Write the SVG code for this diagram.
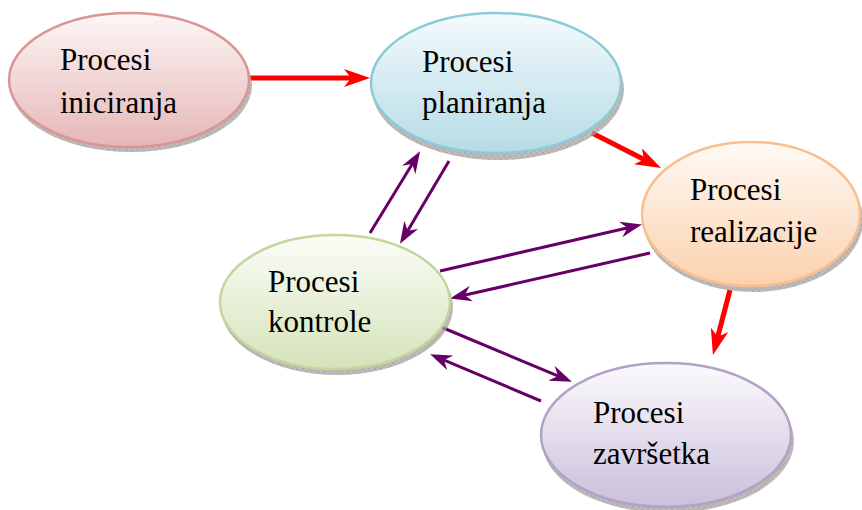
<svg xmlns="http://www.w3.org/2000/svg" width="862" height="510" viewBox="0 0 862 510">
<style>
text{font-family:'Liberation Serif','Times New Roman',serif;font-size:31px;fill:#000}
.red{stroke:#ff0000;stroke-width:5;fill:none;marker-end:url(#redHead)}
.pur{stroke:#660066;stroke-width:3;fill:none;marker-end:url(#purHead)}
.node{stroke-width:2.5}
.rim{fill:url(#hatch);opacity:0.75}
</style>
<defs>
<marker id="redHead" viewBox="0 0 26 18" refX="12" refY="9" markerWidth="26" markerHeight="18" markerUnits="userSpaceOnUse" orient="auto">
<path d="M26,9 L0,0 L7,9 L0,18 Z" fill="#ff0000"/>
</marker>
<marker id="purHead" viewBox="0 0 22 16" refX="10" refY="8" markerWidth="22" markerHeight="16" markerUnits="userSpaceOnUse" orient="auto">
<path d="M22,8 L0,0 L7,8 L0,16 Z" fill="#660066"/>
</marker>
<linearGradient id="g1" x1="0" y1="0" x2="0" y2="1"><stop offset="0" stop-color="#fdf6f6"/><stop offset="1" stop-color="#e5b7b6"/></linearGradient>
<linearGradient id="g2" x1="0" y1="0" x2="0" y2="1"><stop offset="0" stop-color="#f4fbfd"/><stop offset="1" stop-color="#b5dbe6"/></linearGradient>
<linearGradient id="g3" x1="0" y1="0" x2="0" y2="1"><stop offset="0" stop-color="#fffaf6"/><stop offset="1" stop-color="#fbd1ae"/></linearGradient>
<linearGradient id="g4" x1="0" y1="0" x2="0" y2="1"><stop offset="0" stop-color="#fbfdf7"/><stop offset="1" stop-color="#d5e3bb"/></linearGradient>
<linearGradient id="g5" x1="0" y1="0" x2="0" y2="1"><stop offset="0" stop-color="#fbfafd"/><stop offset="1" stop-color="#cbbfda"/></linearGradient>
<pattern id="hatch" width="6" height="6" patternUnits="userSpaceOnUse">
<rect width="6" height="6" fill="#a9a4a4"/>
<path d="M0,0 L6,6 M6,0 L0,6" stroke="#8a8484" stroke-width="0.6"/>
</pattern>
</defs>

<g id="connectors">
<line class="red" x1="250" y1="78" x2="356" y2="78"/>
<line class="red" x1="592" y1="133" x2="648.5" y2="161.7"/>
<line class="red" x1="730" y1="290" x2="716.5" y2="341.5"/>
<line class="pur" x1="370" y1="233" x2="413.8" y2="161.5"/>
<line class="pur" x1="449" y1="161" x2="406.1" y2="233.4"/>
<line class="pur" x1="440" y1="271" x2="630.3" y2="227.2"/>
<line class="pur" x1="650" y1="253" x2="461.8" y2="295.8"/>
<line class="pur" x1="441" y1="327" x2="560.8" y2="377.1"/>
<line class="pur" x1="541" y1="401" x2="441.2" y2="358.9"/>
</g>

<g id="iniciranja">
<ellipse class="rim" cx="131" cy="85" rx="121" ry="67"/>
<ellipse class="node" cx="129" cy="80" rx="120" ry="67" fill="url(#g1)" stroke="#d99694"/>
<text x="60" y="70">Procesi</text>
<text x="60" y="113">iniciranja</text>
</g>

<g id="planiranja">
<ellipse class="rim" cx="498" cy="89" rx="126" ry="71"/>
<ellipse class="node" cx="496" cy="83" rx="125" ry="70" fill="url(#g2)" stroke="#8ccad9"/>
<text x="422" y="72">Procesi</text>
<text x="422" y="113">planiranja</text>
</g>

<g id="realizacije">
<ellipse class="rim" cx="753" cy="220" rx="110" ry="72"/>
<ellipse class="node" cx="751" cy="214" rx="109" ry="72" fill="url(#g3)" stroke="#f9bf8e"/>
<text x="690" y="200">Procesi</text>
<text x="690" y="242">realizacije</text>
</g>

<g id="kontrole">
<ellipse class="rim" cx="337" cy="307" rx="116" ry="68"/>
<ellipse class="node" cx="335" cy="302" rx="115" ry="67" fill="url(#g4)" stroke="#c3d69b"/>
<text x="268" y="292">Procesi</text>
<text x="268" y="332">kontrole</text>
</g>

<g id="zavrsetka">
<ellipse class="rim" cx="668" cy="441" rx="126" ry="72"/>
<ellipse class="node" cx="666" cy="435" rx="125" ry="72" fill="url(#g5)" stroke="#b2a2c7"/>
<text x="593" y="423">Procesi</text>
<text x="593" y="464">završetka</text>
</g>
</svg>
